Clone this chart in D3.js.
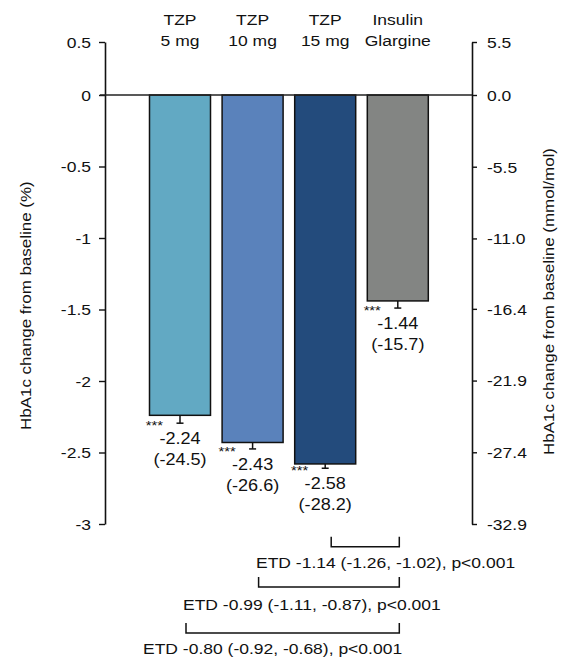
<!DOCTYPE html>
<html>
<head>
<meta charset="utf-8">
<script src="https://cdn.jsdelivr.net/npm/d3@7"></script>
<style>
  body { margin: 0; background: #fff; }
  svg text { font-family: "Liberation Sans", Arial, sans-serif; fill: #111; }
</style>
</head>
<body>
<div id="chart"></div>
<script>
// data
const categories = ['TZP 5 mg', 'TZP 10 mg', 'TZP 15 mg', 'Insulin Glargine'];
const catLines = [['TZP', '5 mg'], ['TZP', '10 mg'], ['TZP', '15 mg'], ['Insulin', 'Glargine']];
const changePct = [-2.24, -2.43, -2.58, -1.44];
const changeMmol = ['(-24.5)', '(-26.6)', '(-28.2)', '(-15.7)'];
const stdErr = [0.055, 0.045, 0.03, 0.05];
const stars = ['***', '***', '***', '***'];
const barColors = ['#62a9c3', '#5a82bb', '#234b7c', '#838583'];
const leftTicks = [0.5, 0, -0.5, -1, -1.5, -2, -2.5, -3];
const rightTicks = [5.5, 0, -5.5, -11.0, -16.4, -21.9, -27.4, -32.9];
const etdLabels = [
  'ETD -1.14 (-1.26, -1.02), p<0.001',
  'ETD -0.99 (-1.11, -0.87), p<0.001',
  'ETD -0.80 (-0.92, -0.68), p<0.001'
];
const etdFrom = [2, 1, 0]; // each compared with Insulin Glargine (index 3)

const W = 576, H = 657;
const SX = 1.13; // the source font runs wider than Arial
const fs = 15.5;

const svg = d3.select('#chart').append('svg')
  .attr('width', W)
  .attr('height', H);

// the axis is compressed above zero, so a piecewise scale
const y = d3.scaleLinear().domain([0.5, 0, -3]).range([42, 95, 524]);
const yR = d3.scaleLinear().domain([5.5, 0, -32.9]).range([42, 95, 524]);
const x = d3.scalePoint().domain(categories).range([180, 397.8]);
const barW = 61;
const axL = 105, axR = 472;
const fmt = v => v.toFixed(2); // keep the plain hyphen minus

function wide(sel, tx, ty, rot) {
  sel.attr('transform', (d, i) => {
    const xx = typeof tx === 'function' ? tx(d, i) : tx;
    const yy = typeof ty === 'function' ? ty(d, i) : ty;
    return `translate(${xx},${yy})` + (rot ? ` rotate(${rot})` : '') + ` scale(${SX},1)`;
  });
  return sel;
}

// axes
const leftAxis = d3.axisLeft(y).tickValues(leftTicks).tickSize(6).tickSizeOuter(0)
  .tickFormat(d => String(d));
const gl = svg.append('g').attr('transform', `translate(${axL},0)`).call(leftAxis);
gl.select('.domain').attr('stroke', '#111').attr('stroke-width', 1.6);
gl.selectAll('.tick line').attr('stroke', '#111').attr('stroke-width', 1.4);
gl.selectAll('.tick text').attr('x', -14 / SX).attr('dy', '0.35em')
  .attr('transform', `scale(${SX},1)`).style('font-size', fs + 'px');

const rightAxis = d3.axisRight(yR).tickValues(rightTicks).tickSize(5).tickSizeOuter(0)
  .tickFormat(d => d.toFixed(1));
const gr = svg.append('g').attr('transform', `translate(${axR},0)`).call(rightAxis);
gr.select('.domain').attr('stroke', '#111').attr('stroke-width', 1.6);
gr.selectAll('.tick line').attr('stroke', '#111').attr('stroke-width', 1.4);
gr.selectAll('.tick text').attr('x', 15 / SX).attr('dy', '0.35em')
  .attr('transform', `scale(${SX},1)`).style('font-size', fs + 'px');

// axis titles
wide(svg.append('text').text('HbA1c change from baseline (%)'), 31, 430, -90)
  .style('font-size', '15px');
wide(svg.append('text').text('HbA1c change from baseline (mmol/mol)'), 554, 455, -90)
  .style('font-size', '15px');

// bars
const bars = categories.map((c, i) => ({c, v: changePct[i], e: stdErr[i], i}));
svg.selectAll('.bar')
  .data(bars)
  .enter().append('rect')
  .attr('class', 'bar')
  .attr('x', d => x(d.c) - barW / 2)
  .attr('width', barW)
  .attr('y', y(0))
  .attr('height', d => y(d.v) - y(0))
  .attr('fill', d => barColors[d.i])
  .attr('stroke', '#111')
  .attr('stroke-width', 1.5);

// zero line
svg.append('line')
  .attr('x1', axL - 5).attr('x2', axR)
  .attr('y1', y(0)).attr('y2', y(0))
  .attr('stroke', '#222').attr('stroke-width', 1.6);

// error bars
const eb = svg.selectAll('.err').data(bars).enter().append('g').attr('class', 'err')
  .attr('stroke', '#111').attr('stroke-width', 1.5);
eb.append('line')
  .attr('x1', d => x(d.c)).attr('x2', d => x(d.c))
  .attr('y1', d => y(d.v)).attr('y2', d => y(d.v - d.e));
eb.append('line')
  .attr('x1', d => x(d.c) - 3.5).attr('x2', d => x(d.c) + 3.5)
  .attr('y1', d => y(d.v - d.e)).attr('y2', d => y(d.v - d.e));

// significance stars and value labels
wide(svg.selectAll('.star').data(bars).enter().append('text').attr('class', 'star'),
  d => x(d.c) - 17, d => y(d.v - d.e) + 7)
  .attr('text-anchor', 'end').style('font-size', '13px')
  .text(d => stars[d.i]);
wide(svg.selectAll('.val').data(bars).enter().append('text').attr('class', 'val'),
  d => x(d.c), d => y(d.v - d.e) + 21)
  .attr('text-anchor', 'middle').style('font-size', '16px')
  .text(d => fmt(d.v));
wide(svg.selectAll('.mmol').data(bars).enter().append('text').attr('class', 'mmol'),
  d => x(d.c), d => y(d.v - d.e) + 42)
  .attr('text-anchor', 'middle').style('font-size', '16px')
  .text(d => changeMmol[d.i]);

// category labels above bars
catLines.forEach((lines, i) => {
  lines.forEach((t, j) => {
    wide(svg.append('text').text(t), x(categories[i]), 25 + j * 21)
      .attr('text-anchor', 'middle').style('font-size', fs + 'px');
  });
});

// ETD brackets
const bracketY = [546.7, 587, 633];
const etdTextX = [256, 183, 143];
const etdTextY = [567.5, 610, 654];
etdLabels.forEach((lab, k) => {
  const x1 = x(categories[etdFrom[k]]) + 6;
  const x2 = x(categories[3]) + 1.5;
  const by = bracketY[k];
  svg.append('path')
    .attr('d', `M${x1},${by - 10}V${by}H${x2}V${by - 10}`)
    .attr('fill', 'none').attr('stroke', '#111').attr('stroke-width', 1.5);
  wide(svg.append('text').text(lab), etdTextX[k], etdTextY[k])
    .style('font-size', fs + 'px');
});
</script>
</body>
</html>
